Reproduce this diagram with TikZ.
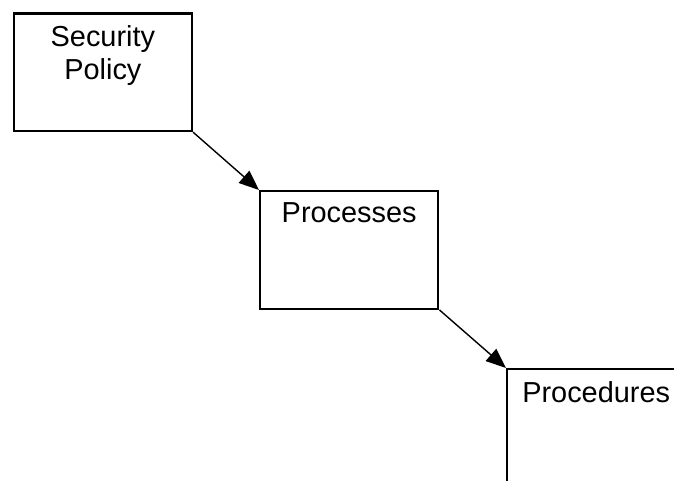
\documentclass[tikz,border=0pt]{standalone}
\usepackage{fontspec}
\setmainfont{Liberation Sans}
\usetikzlibrary{arrows.meta}

\tikzset{
  stagebox/.style={draw, line width=1.2pt, minimum width=89pt, minimum height=58.75pt, anchor=north west, inner sep=0pt},
  stagetitle/.style={anchor=base, align=center, inner sep=0pt, font=\fontsize{14.45}{16.6}\selectfont},
  flow/.style={-{Triangle[length=10pt,width=8pt]}, line width=0.7pt}
}

\begin{document}
\begin{tikzpicture}[x=0.5pt,y=-0.5pt]
\useasboundingbox (0,0) rectangle (674,481);
\clip (0,0) rectangle (674,481);
% the three stages, stepping down to the right
\node [stagebox] (policy) at (12.7,12.3) {};
\node [stagebox] (processes) at (259,190) {};
\node [stagebox] (procedures) at (506,368) {};
% titles sit on their last baseline
\node [stagetitle] (policy-title) at ([yshift=-33.5pt]policy.north) {Security\\Policy};
\node [stagetitle] (processes-title) at ([yshift=-16pt]processes.north) {Processes};
\node [stagetitle] (procedures-title) at ([yshift=-17pt]procedures.north) {Procedures};
% corner to corner arrows
\draw [flow] (policy.south east) -- (processes.north west);
\draw [flow] (processes.south east) -- (procedures.north west);
\end{tikzpicture}
\end{document}
